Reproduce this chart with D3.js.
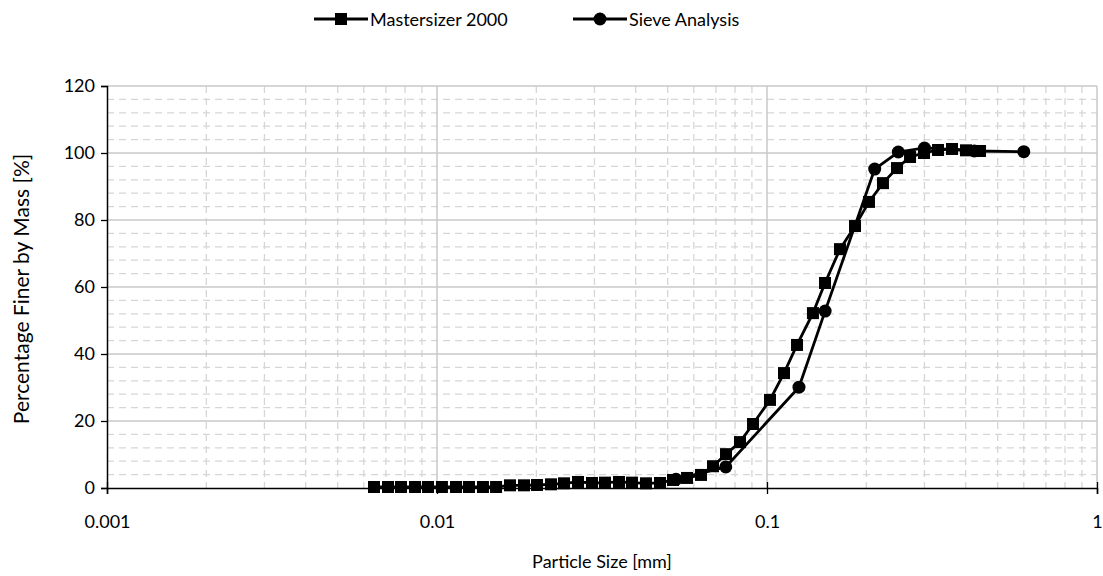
<!DOCTYPE html>
<html>
<head>
<meta charset="utf-8">
<script src="https://cdn.jsdelivr.net/npm/d3@7"></script>
<style>
  html, body { margin: 0; padding: 0; background: #fff; }
  svg { display: block; font-family: Lato, "Noto Sans", sans-serif; }
</style>
</head>
<body>
<svg id="chart" width="1103" height="576"></svg>
<script>
// ---- data ----
const seriesNames = ["Mastersizer 2000", "Sieve Analysis"];

const msSize = [0.006443, 0.007105, 0.007779, 0.008577, 0.009391, 0.01035, 0.01142, 0.01250,
  0.01378, 0.01510, 0.01664, 0.01835, 0.02009, 0.02216, 0.02426, 0.02675, 0.02949, 0.03229,
  0.03560, 0.03898, 0.04298, 0.04740, 0.05190, 0.05724, 0.06310, 0.06861, 0.07513, 0.08283,
  0.09070, 0.1021, 0.1126, 0.1233, 0.1378, 0.1499, 0.1664, 0.1848, 0.2037, 0.2246, 0.2477,
  0.2713, 0.2991, 0.3298, 0.3636, 0.4009, 0.4421];
const msFiner = [0.3, 0.3, 0.3, 0.3, 0.3, 0.3, 0.3, 0.3,
  0.3, 0.3, 0.8, 0.8, 0.9, 1.1, 1.4, 1.8, 1.5, 1.6,
  1.8, 1.6, 1.4, 1.5, 2.4, 3.0, 3.9, 6.5, 10.1, 13.7,
  19.1, 26.3, 34.3, 42.7, 52.2, 61.2, 71.3, 78.2, 85.4, 91.0, 95.5,
  98.8, 100.0, 100.9, 101.2, 100.8, 100.6];

const sieveSize = [0.053, 0.075, 0.125, 0.15, 0.212, 0.25, 0.3, 0.425, 0.6];
const sieveFiner = [2.6, 6.3, 30.1, 52.8, 95.2, 100.3, 101.5, 100.6, 100.4];

const xTickValues = [0.001, 0.01, 0.1, 1];
const xTickLabels = ["0.001", "0.01", "0.1", "1"];
const yTickValues = [0, 20, 40, 60, 80, 100, 120];
const xTitle = "Particle Size [mm]";
const yTitle = "Percentage Finer by Mass [%]";

// ---- layout ----
const svg = d3.select("#chart");
const pLeft = 107, pRight = 1097, pTop = 86, pBottom = 488;
const fs = 18;

const x = d3.scaleLog().domain([0.001, 1]).range([pLeft, pRight]);
const y = d3.scaleLinear().domain([0, 120]).range([pBottom, pTop]);

// ---- grid ----
const grid = svg.append("g");
const minorX = [];
[0.001, 0.01, 0.1].forEach(d => { for (let k = 2; k <= 9; k++) minorX.push(d * k); });
grid.selectAll("line.mx").data(minorX).enter().append("line")
  .attr("x1", d => x(d)).attr("x2", d => x(d))
  .attr("y1", pTop).attr("y2", pBottom)
  .attr("stroke", "#d6d6d6").attr("stroke-width", 1.3).attr("stroke-dasharray", "7,5");
const minorY = d3.range(0, 121, 4).filter(v => v % 20 !== 0);
grid.selectAll("line.my").data(minorY).enter().append("line")
  .attr("x1", pLeft).attr("x2", pRight)
  .attr("y1", d => y(d)).attr("y2", d => y(d))
  .attr("stroke", "#d6d6d6").attr("stroke-width", 1.3).attr("stroke-dasharray", "7,5");
grid.selectAll("line.Mx").data(xTickValues.slice(1)).enter().append("line")
  .attr("x1", d => x(d)).attr("x2", d => x(d))
  .attr("y1", pTop).attr("y2", pBottom)
  .attr("stroke", "#c8c8c8").attr("stroke-width", 1.5);
grid.selectAll("line.My").data(yTickValues.slice(1)).enter().append("line")
  .attr("x1", pLeft).attr("x2", pRight)
  .attr("y1", d => y(d)).attr("y2", d => y(d))
  .attr("stroke", "#c8c8c8").attr("stroke-width", 1.5);

// ---- axes ----
const xAxis = d3.axisBottom(x).tickValues(xTickValues)
  .tickFormat((d, i) => xTickLabels[i]).tickSize(6).tickPadding(21);
const gx = svg.append("g").attr("transform", `translate(0,${pBottom})`).call(xAxis);
gx.select(".domain").attr("stroke", "#000").attr("stroke-width", 1.5);
gx.selectAll(".tick line").attr("stroke", "#000").attr("stroke-width", 1.3).attr("y1", -6);
gx.selectAll(".tick text").attr("font-size", fs).attr("fill", "#000").attr("font-family", "Lato, sans-serif");

const yAxis = d3.axisLeft(y).tickValues(yTickValues).tickSize(6).tickPadding(6);
const gy = svg.append("g").attr("transform", `translate(${pLeft},0)`).call(yAxis);
gy.select(".domain").attr("stroke", "#000").attr("stroke-width", 1.5);
gy.selectAll(".tick line").attr("stroke", "#000").attr("stroke-width", 1.3);
gy.selectAll(".tick text").attr("font-size", fs).attr("fill", "#000").attr("font-family", "Lato, sans-serif");

svg.append("text").attr("x", 602).attr("y", 568)
  .attr("text-anchor", "middle").attr("font-size", fs).text(xTitle);
svg.append("text").attr("transform", `translate(29,${(pTop + pBottom) / 2 + 2}) rotate(-90)`)
  .attr("text-anchor", "middle").attr("font-size", 21).text(yTitle);

// ---- series ----
const line = d3.line().x(d => x(d[0])).y(d => y(d[1]));
const msData = msSize.map((s, i) => [s, msFiner[i]]);
const svData = sieveSize.map((s, i) => [s, sieveFiner[i]]);
const sq = 12, cr = 6.5;

svg.append("path").datum(svData).attr("d", line)
  .attr("fill", "none").attr("stroke", "#000").attr("stroke-width", 2.8);
svg.append("g").selectAll("circle").data(svData).enter().append("circle")
  .attr("cx", d => x(d[0])).attr("cy", d => y(d[1])).attr("r", cr).attr("fill", "#000");

svg.append("path").datum(msData).attr("d", line)
  .attr("fill", "none").attr("stroke", "#000").attr("stroke-width", 2.8);
svg.append("g").selectAll("rect").data(msData).enter().append("rect")
  .attr("x", d => x(d[0]) - sq / 2).attr("y", d => y(d[1]) - sq / 2)
  .attr("width", sq).attr("height", sq).attr("fill", "#000");

// ---- legend ----
const legend = svg.append("g");
const items = [
  { name: seriesNames[0], x0: 314, shape: "square" },
  { name: seriesNames[1], x0: 573, shape: "circle" }
];
items.forEach(it => {
  legend.append("line").attr("x1", it.x0).attr("x2", it.x0 + 54)
    .attr("y1", 19).attr("y2", 19).attr("stroke", "#000").attr("stroke-width", 2.8);
  if (it.shape === "square") {
    legend.append("rect").attr("x", it.x0 + 27 - 6).attr("y", 19 - 6)
      .attr("width", 12).attr("height", 12).attr("fill", "#000");
  } else {
    legend.append("circle").attr("cx", it.x0 + 27).attr("cy", 19).attr("r", 6.5).attr("fill", "#000");
  }
  legend.append("text").attr("x", it.x0 + 56).attr("y", 25.5)
    .attr("font-size", fs).text(it.name);
});
</script>
</body>
</html>
